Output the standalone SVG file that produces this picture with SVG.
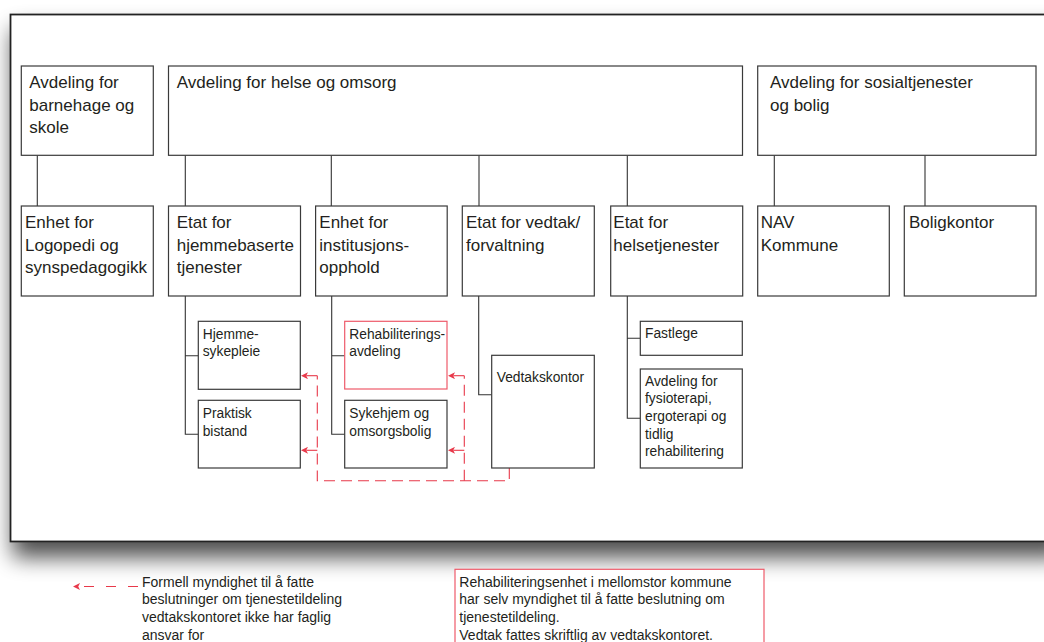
<svg xmlns="http://www.w3.org/2000/svg" width="1044" height="642" viewBox="0 0 1044 642">
<defs>
<style>
.box{fill:#fff;stroke:#3a3a3a;stroke-width:1.2}
.rbox{fill:#fff;stroke:#ee5a6a;stroke-width:1.2}
.ln{fill:none;stroke:#333;stroke-width:1.1}
.dash{fill:none;stroke:#e8394a;stroke-width:1.1;stroke-dasharray:11 6}
.t1{font-family:"Liberation Sans",Arial,sans-serif;font-size:17px;fill:#231f20}
.t3{font-family:"Liberation Sans",Arial,sans-serif;font-size:13.8px;fill:#231f20}
.t4{font-family:"Liberation Sans",Arial,sans-serif;font-size:14px;fill:#231f20}
</style>
<marker id="ah" viewBox="0 0 10 10" refX="10" refY="5" markerWidth="8" markerHeight="7" markerUnits="userSpaceOnUse" orient="auto">
<path d="M0,0 L10,5 L0,10 L2.5,5 Z" fill="#e8394a"/>
</marker>
<filter id="sh" x="-10%" y="-10%" width="130%" height="130%">
<feGaussianBlur in="SourceAlpha" stdDeviation="11"/>
<feOffset dx="3" dy="15" result="b"/>
<feComponentTransfer><feFuncA type="linear" slope="0.7"/></feComponentTransfer>
<feMerge><feMergeNode/><feMergeNode in="SourceGraphic"/></feMerge>
</filter>
</defs>
<rect width="1044" height="642" fill="#fff"/>
<rect id="frame" x="10.5" y="14.5" width="1050" height="527" fill="#fff" stroke="#222" stroke-width="1.8" filter="url(#sh)"/>

<g id="connectors">
<path class="ln" d="M37.3,155.3V206"/>
<path class="ln" d="M185.3,155.3V206M331.3,155.3V206M479,155.3V206M627.3,155.3V206"/>
<path class="ln" d="M774.3,155.3V206M925,155.3V206"/>
<path class="ln" d="M185.3,296V434.3H198.3M185.3,355.7H198.3"/>
<path class="ln" d="M331.7,296V434.3H344.7M331.7,355.7H344.7"/>
<path class="ln" d="M478.7,296V394.7H491.7"/>
<path class="ln" d="M627.3,296V418.3H640.3M627.3,338.3H640.3"/>
<path class="dash" d="M509.3,468V480.7H317.3V375.7"/>
<path class="dash" d="M464.3,480.7V375.7"/>
<path class="dash" d="M317.3,375.7H301" marker-end="url(#ah)"/>
<path class="dash" d="M317.3,450.3H301" marker-end="url(#ah)"/>
<path class="dash" d="M464.3,375.7H448" marker-end="url(#ah)"/>
<path class="dash" d="M464.3,450.3H448" marker-end="url(#ah)"/>
</g>

<g id="barnehage"><rect class="box" x="21.3" y="66" width="132" height="89.3"/>
<text class="t1" x="29.3" y="88.3">Avdeling for</text><text class="t1" x="29.3" y="110.8">barnehage og</text><text class="t1" x="29.3" y="133.3">skole</text></g>
<g id="helse"><rect class="box" x="168.5" y="66" width="574" height="89.3"/>
<text class="t1" x="176.7" y="88.3">Avdeling for helse og omsorg</text></g>
<g id="sosial"><rect class="box" x="757.7" y="66" width="278.3" height="89.3"/>
<text class="t1" x="770" y="88.3">Avdeling for sosialtjenester</text><text class="t1" x="770" y="110.8">og bolig</text></g>

<g id="logopedi"><rect class="box" x="21.3" y="206" width="132" height="90"/>
<text class="t1" x="25" y="228.3">Enhet for</text><text class="t1" x="25" y="250.8">Logopedi og</text><text class="t1" x="25" y="273.3">synspedagogikk</text></g>
<g id="hjemmebaserte"><rect class="box" x="168.5" y="206" width="132" height="90"/>
<text class="t1" x="176.7" y="228.3">Etat for</text><text class="t1" x="176.7" y="250.8">hjemmebaserte</text><text class="t1" x="176.7" y="273.3">tjenester</text></g>
<g id="institusjon"><rect class="box" x="315.6" y="206" width="131.6" height="90"/>
<text class="t1" x="319.3" y="228.3">Enhet for</text><text class="t1" x="319.3" y="250.8">institusjons-</text><text class="t1" x="319.3" y="273.3">opphold</text></g>
<g id="vedtak"><rect class="box" x="462.3" y="206" width="132" height="90"/>
<text class="t1" x="466" y="228.3">Etat for vedtak/</text><text class="t1" x="466" y="250.8">forvaltning</text></g>
<g id="helsetjenester"><rect class="box" x="610.7" y="206" width="132" height="90"/>
<text class="t1" x="613.3" y="228.3">Etat for</text><text class="t1" x="613.3" y="250.8">helsetjenester</text></g>
<g id="nav"><rect class="box" x="757.7" y="206" width="131.6" height="90"/>
<text class="t1" x="760.7" y="228.3">NAV</text><text class="t1" x="760.7" y="250.8">Kommune</text></g>
<g id="boligkontor"><rect class="box" x="904.3" y="206" width="131.7" height="90"/>
<text class="t1" x="909" y="228.3">Boligkontor</text></g>

<g id="hjemmesykepleie"><rect class="box" x="198.3" y="321.3" width="102" height="68"/>
<text class="t3" x="202.7" y="339.3">Hjemme-</text><text class="t3" x="202.7" y="356.3">sykepleie</text></g>
<g id="praktisk"><rect class="box" x="198.3" y="400.3" width="102" height="67.7"/>
<text class="t3" x="202.7" y="418">Praktisk</text><text class="t3" x="202.7" y="435.7">bistand</text></g>
<g id="rehab"><rect class="rbox" x="344.7" y="321.3" width="102.3" height="67.7"/>
<text class="t3" x="349.3" y="338.7">Rehabiliterings-</text><text class="t3" x="349.3" y="356">avdeling</text></g>
<g id="sykehjem"><rect class="box" x="344.7" y="400.3" width="102.3" height="67.7"/>
<text class="t3" x="349.3" y="418.3">Sykehjem og</text><text class="t3" x="349.3" y="435.7">omsorgsbolig</text></g>
<g id="vedtakskontor"><rect class="box" x="491.7" y="355.3" width="102.6" height="112.7"/>
<text class="t3" x="496.7" y="382.3">Vedtakskontor</text></g>
<g id="fastlege"><rect class="box" x="640.3" y="321.3" width="102" height="34"/>
<text class="t3" x="645" y="338.3">Fastlege</text></g>
<g id="fysio"><rect class="box" x="640.3" y="369" width="102" height="99"/>
<text class="t3" x="645" y="385.7">Avdeling for</text><text class="t3" x="645" y="403.3">fysioterapi,</text><text class="t3" x="645" y="421">ergoterapi og</text><text class="t3" x="645" y="438.7">tidlig</text><text class="t3" x="645" y="456.3">rehabilitering</text></g>

<g id="legend1">
<path d="M138,586.5H73" fill="none" stroke="#e8394a" stroke-width="1.1" stroke-dasharray="10 12" marker-end="url(#ah)"/>
<text class="t4" x="142" y="586.7">Formell myndighet til å fatte</text>
<text class="t4" x="142" y="604.4">beslutninger om tjenestetildeling</text>
<text class="t4" x="142" y="622.2">vedtakskontoret ikke har faglig</text>
<text class="t4" x="142" y="640">ansvar for</text>
</g>
<g id="legend2">
<rect class="rbox" x="455" y="569.3" width="309" height="90"/>
<text class="t4" x="459.3" y="586.7">Rehabiliteringsenhet i mellomstor kommune</text>
<text class="t4" x="459.3" y="604.4">har selv myndighet til å fatte beslutning om</text>
<text class="t4" x="459.3" y="622.2">tjenestetildeling.</text>
<text class="t4" x="459.3" y="640">Vedtak fattes skriftlig av vedtakskontoret.</text>
</g>
</svg>
